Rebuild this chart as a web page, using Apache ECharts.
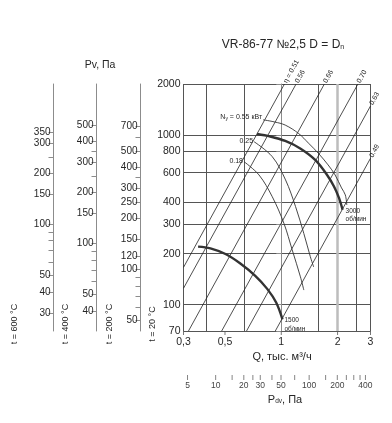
<!DOCTYPE html>
<html><head><meta charset="utf-8">
<script src="https://cdn.jsdelivr.net/npm/echarts@6/dist/echarts.min.js"></script>
<style>html,body{margin:0;padding:0;background:#fff}#c{width:392px;height:423px}</style>
</head><body><div id="c"></div>
<script>
// ---------- values ----------
const qRange = [0.3, 3];                       // Q, тыс. м3/ч
const qTicks = [0.3, 0.5, 1, 2, 3];
const qHighlight = 2;
const p20Range = [70, 2000];                   // Pv at t = 20 °C (main axis)
const p20Ticks = [70, 100, 200, 300, 400, 600, 800, 1000, 2000];
const p200Range = [43.4, 1239];
const p200Labels = [50, 100, 120, 150, 200, 250, 300, 400, 500, 700];
const p200Minor = [60, 70, 80, 90, 350, 600];
const p400Range = [30.5, 871];
const p400Labels = [40, 50, 100, 150, 200, 300, 400, 500];
const p400Minor = [60, 70, 80, 90, 250, 350];
const p600Range = [23.5, 671];
const p600Labels = [30, 40, 50, 100, 150, 200, 300, 350];
const p600Minor = [60, 70, 80, 90, 250];
const pdvRange = [4.53, 453];
const pdvLabels = [5, 10, 20, 30, 50, 100, 200, 400];
const pdvMinor = [15, 25, 40, 70, 150, 250, 300, 350];

const fan3000Q = [0.742, 0.873, 1.05, 1.263, 1.518, 1.758, 1.914, 2.035, 2.127];
const fan3000P = [1014, 981, 923, 834, 714, 582, 498, 426, 363];
const fan1500Q = [0.359, 0.418, 0.503, 0.604, 0.726, 0.841, 0.939, 1.015];
const fan1500P = [220, 215, 199, 175, 148, 124, 103, 82];

const pow055Q = [0.80, 0.92, 1.05, 1.24, 1.40, 1.58, 1.78, 1.94, 2.10, 2.20, 2.24];
const pow055P = [1230, 1195, 1145, 1020, 895, 780, 667, 582, 488, 444, 387];
const pow025Q = [0.715, 0.895, 1.054, 1.192, 1.32, 1.43, 1.49];
const pow025P = [914, 746, 544, 379, 263, 192, 167];
const pow018Q = [0.632, 0.76, 0.895, 1.034, 1.143, 1.266, 1.32];
const pow018P = [697, 582, 433, 301, 211, 146, 122];

const etaNames = ['η = 0.51', '0.56', '0.66', '0.70', '0.63', '0.49'];
const etaStartQ = [0.3, 0.3, 0.319, 0.48, 0.652, 0.929];
const etaStartP = [166, 125, 70, 70, 70, 70];
const etaEndQ = [1.04, 1.20, 1.70, 2.57, 3, 3];
const etaEndP = [2000, 2000, 2000, 2000, 1484, 730];

// ---------- chart ----------
const lg = Math.log10;
const pair = (xs, ys) => xs.map((x, i) => [lg(x), lg(ys[i])]);
const FONT = "'Liberation Sans', Arial, sans-serif";
const TXT = '#262626';
const AX = '#8c8c8c';
const fmtP = v => String(Math.round(Math.pow(10, v)));
const fmtQ = v => String(Math.round(Math.pow(10, v) * 10) / 10).replace('.', ',');

function leftAxis(range, labels, minor, offset, split) {
  return {
    type: 'value', gridIndex: 0, position: 'left', offset: offset,
    min: lg(range[0]), max: lg(range[1]),
    axisLine: { show: true, lineStyle: { color: AX, width: 1 } },
    axisTick: { show: true, length: 5, customValues: labels.concat(minor).map(lg), lineStyle: { color: AX } },
    axisLabel: { customValues: labels.map(lg), formatter: fmtP, fontSize: split ? 10.5 : 10, color: TXT, margin: 3, fontFamily: FONT },
    splitLine: { show: !!split, lineStyle: { color: '#555', width: 1 } }
  };
}

const thick = (q, p) => ({ type: 'line', data: pair(q, p), smooth: 0.35, symbol: 'none', silent: true, z: 6,
  lineStyle: { color: '#333', width: 2.4 } });
const thin = (q, p) => ({ type: 'line', data: pair(q, p), smooth: 0.35, symbol: 'none', silent: true, z: 4,
  lineStyle: { color: '#333', width: 0.9 } });

const series = [];
etaNames.forEach((n, i) => {
  series.push({ type: 'line', symbol: 'none', silent: true, z: 3,
    data: [[lg(etaStartQ[i]), lg(etaStartP[i])], [lg(etaEndQ[i]), lg(etaEndP[i])]],
    lineStyle: { color: '#222', width: 0.8 } });
});
series[0].markLine = { symbol: 'none', silent: true, label: { show: false }, z: 2,
  lineStyle: { color: '#bdbdbd', width: 2.5, type: 'solid' }, data: [{ xAxis: lg(qHighlight) }] };
series.push(thick(fan3000Q, fan3000P), thick(fan1500Q, fan1500P),
  thin(pow055Q, pow055P), thin(pow025Q, pow025P), thin(pow018Q, pow018P));
// tick marks of the Q axis (drawn as marks on the axis through the scales)
series.push({ type: 'scatter', silent: true, clip: false, z: 7, symbol: 'rect', symbolSize: [1, 4], symbolOffset: [0, 2],
  itemStyle: { color: '#555' }, data: qTicks.map(q => [lg(q), lg(p20Range[0])]) });
// tick marks of the Pdv scale
series.push({ type: 'scatter', xAxisIndex: 1, yAxisIndex: 4, silent: true, clip: false, symbol: 'rect',
  symbolSize: [1, 5], symbolOffset: [0, 2.5], itemStyle: { color: '#666' },
  data: pdvLabels.concat(pdvMinor).map(v => [lg(v), 0]) });

const option = {
  animation: false,
  backgroundColor: '#fff',
  textStyle: { fontFamily: FONT },
  title: [
    { text: 'VR-86-77 №2,5 D = D{s|n}', left: 283, top: 39, textAlign: 'center', padding: 0,
      textStyle: { fontSize: 12, fontWeight: 'normal', color: TXT, fontFamily: FONT,
        rich: { s: { fontSize: 7, color: TXT, padding: [5, 0, 0, 0], fontFamily: FONT } } } },
    { text: 'Pv, Па', left: 100, top: 60, textAlign: 'center', padding: 0,
      textStyle: { fontSize: 10.5, fontWeight: 'normal', color: TXT, fontFamily: FONT } },
    { text: 'Q, тыс. м³/ч', left: 282, top: 351, textAlign: 'center', padding: 0,
      textStyle: { fontSize: 11, fontWeight: 'normal', color: TXT, fontFamily: FONT } },
    { text: 'P{s|dv}, Па', left: 285, top: 394, textAlign: 'center', padding: 0,
      textStyle: { fontSize: 11, fontWeight: 'normal', color: TXT, fontFamily: FONT,
        rich: { s: { fontSize: 6.5, color: TXT, padding: [4, 0, 0, 0], fontFamily: FONT } } } }
  ],
  grid: [
    { left: 183.5, right: 21.5, top: 84, bottom: 92 },
    { left: 183.5, right: 21.5, top: 374, height: 1 }
  ],
  xAxis: [
    { type: 'value', gridIndex: 0, min: lg(qRange[0]), max: lg(qRange[1]),
      axisLine: { show: false, onZero: false },
      axisTick: { show: false },
      axisLabel: { customValues: qTicks.map(lg), formatter: fmtQ, fontSize: 10.5, color: TXT, margin: 6, fontFamily: FONT },
      splitLine: { show: true, lineStyle: { color: '#555', width: 1 } } },
    { type: 'value', gridIndex: 1, min: lg(pdvRange[0]), max: lg(pdvRange[1]), position: 'bottom',
      axisLine: { show: false, onZero: false },
      axisTick: { show: false },
      axisLabel: { customValues: pdvLabels.map(lg), formatter: fmtP, fontSize: 8.5, color: '#444', margin: 6.5, fontFamily: FONT },
      splitLine: { show: false } }
  ],
  yAxis: [
    leftAxis(p20Range, p20Ticks, [], 0, true),
    leftAxis(p200Range, p200Labels, p200Minor, 43, false),
    leftAxis(p400Range, p400Labels, p400Minor, 87, false),
    leftAxis(p600Range, p600Labels, p600Minor, 130, false),
    { type: 'value', gridIndex: 1, show: false, min: 0, max: 1 }
  ],
  series: series
};

const chart = echarts.init(document.getElementById('c'), null, { renderer: 'canvas' });
chart.setOption(option);

const px = (q, p) => chart.convertToPixel({ seriesIndex: 0 }, [lg(q), lg(p)]);
const g = [];
const small = (text, x, y, align, vAlign, size, rich) => ({ type: 'text', x: x, y: y, silent: true, z: 20,
  style: { text: text, fontSize: size, fontFamily: FONT, fill: TXT, align: align, verticalAlign: vAlign, lineHeight: size + 1.8, rich: rich } });

etaNames.forEach((t, i) => {
  const a = px(etaStartQ[i], etaStartP[i]), b = px(etaEndQ[i], etaEndP[i]);
  const ang = Math.atan2(a[1] - b[1], b[0] - a[0]);
  const el = small(t, b[0] + Math.cos(ang) * 1.5, b[1] - Math.sin(ang) * 1.5, 'left', 'middle', 7);
  el.rotation = ang;
  g.push(el);
});
const subRich = { s: { fontSize: 5, fill: TXT, fontFamily: FONT, padding: [3, 0, 0, 0] } };
let s = px(pow055Q[0], pow055P[0]);
g.push(small('N{s|у} = 0.55 кВт', s[0] - 1, s[1] - 3, 'right', 'middle', 7, subRich));
s = px(pow025Q[0], pow025P[0]);
g.push(small('0.25', s[0] - 1, s[1] - 1, 'right', 'middle', 7));
s = px(pow018Q[0], pow018P[0]);
g.push(small('0.18', s[0] - 1, s[1] - 1, 'right', 'middle', 7));
s = px(fan3000Q[fan3000Q.length - 1], fan3000P[fan3000P.length - 1]);
g.push(small('3000\nоб/мин', s[0] + 3, s[1] - 3, 'left', 'top', 6.5));
s = px(fan1500Q[fan1500Q.length - 1], fan1500P[fan1500P.length - 1]);
g.push(small('1500\nоб/мин', s[0] + 2, s[1] - 3, 'left', 'top', 6.5));

const tLabels = [['t = 600 °C', 15], ['t = 400 °C', 66], ['t = 200 °C', 110], ['t = 20 °C', 153]];
tLabels.forEach(([t, x]) => {
  const el = small(t, x, 324, 'center', 'middle', 9);
  el.rotation = Math.PI / 2;
  g.push(el);
});
chart.setOption({ graphic: g });
</script>
</body></html>
